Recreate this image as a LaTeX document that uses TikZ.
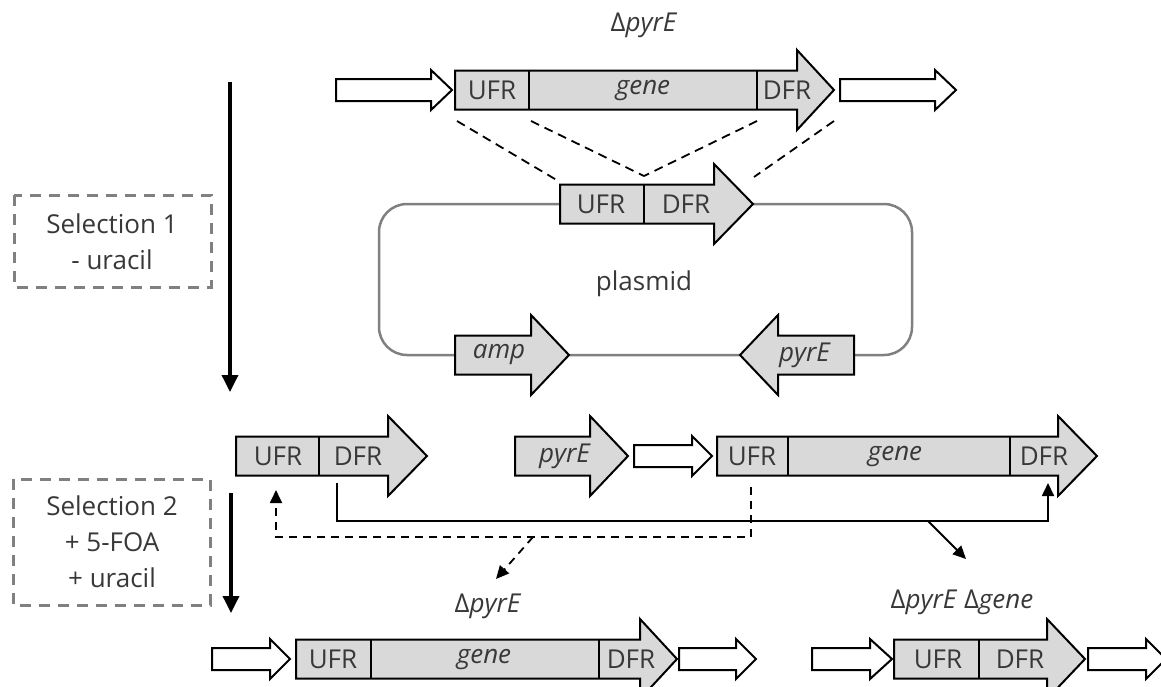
\documentclass[tikz,border=0pt]{standalone}
\usepackage{fontspec}
\setmainfont{Open Sans}
\usetikzlibrary{arrows.meta}
\definecolor{genegray}{HTML}{D9D9D9}
\definecolor{txtgray}{HTML}{383838}
\definecolor{boxgray}{HTML}{808080}
\tikzset{
  genefill/.style={draw=black, fill=genegray, line width=2pt, line join=miter},
  openarrow/.style={draw=black, fill=white, line width=2pt, line join=miter},
  divline/.style={draw=black, line width=2pt},
  lbl/.style={text=txtgray, font=\fontsize{26}{36}\selectfont, inner sep=0pt},
  plasmidline/.style={draw=boxgray, line width=2.5pt},
  selbox/.style={draw=boxgray, line width=3pt, dash pattern=on 11pt off 8pt},
  homol/.style={draw=black, line width=1.8pt, dash pattern=on 9pt off 6pt},
  conn/.style={draw=black, line width=1.8pt, -{Triangle[length=13pt,width=12pt]}},
  dconn/.style={draw=black, line width=1.8pt, dash pattern=on 8pt off 6pt, -{Triangle[length=13pt,width=12pt]}},
  bigarrow/.style={draw=black, line width=3.5pt, -{Triangle[length=17pt,width=16pt]}}
}
% #1 left, #2 head base, #3 tip, #4 centre y
\newcommand\mygarrow[4]{%
  \draw[genefill] (#1,#4-19.5) -- (#2,#4-19.5) -- (#2,#4-40) -- (#3,#4) -- (#2,#4+40) -- (#2,#4+19.5) -- (#1,#4+19.5) -- cycle;}
\newcommand\myoarrow[4]{%
  \draw[openarrow] (#1,#4-11) -- (#2,#4-11) -- (#2,#4-20) -- (#3,#4) -- (#2,#4+20) -- (#2,#4+11) -- (#1,#4+11) -- cycle;}
\newcommand\mydiv[2]{\draw[divline] (#1,#2-19.5) -- (#1,#2+19.5);}
\begin{document}
\begin{tikzpicture}[x=1pt,y=-1pt]
\useasboundingbox (0,0) rectangle (1161,686);

% ---------- top row ----------
\node[lbl] (toplabel) at (644,25) {Δ\textit{pyrE}};
\myoarrow{336}{431}{452}{90}
\mygarrow{455}{797}{834}{90}
\mydiv{529}{90}
\mydiv{757}{90}
\myoarrow{840}{935}{956}{90}
\node[lbl] (tufr) at (492,90) {UFR};
\node[lbl] (tgene) at (643,90) {\textit{gene}};
\node[lbl] (tdfr) at (787,90) {DFR};
\coordinate (tA) at (457,121);
\coordinate (tB) at (531,121);
\coordinate (tC) at (757,121);
\coordinate (tD) at (834,121);

% ---------- plasmid ----------
\draw[plasmidline, rounded corners=28pt] (379,204) rectangle (912,355);
\mygarrow{560}{714}{753}{204}
\mydiv{644}{204}
\node[lbl] (pufr) at (601,204) {UFR};
\node[lbl] (pdfr) at (686,204) {DFR};
\coordinate (pA) at (560,182);
\coordinate (pB) at (644,176);
\coordinate (pD) at (754,177);
\mygarrow{455}{531}{569}{355}
\node[lbl] (pamp) at (499,355) {\textit{amp}};
\mygarrow{854}{778}{740}{355}
\node[lbl] (ppyr) at (805,355) {\textit{pyrE}};
\node[lbl] (plabel) at (644,284) {plasmid};
\draw[homol] (tA) -- (pA);
\draw[homol] (tB) -- (pB);
\draw[homol] (tC) -- (pB);
\draw[homol] (tD) -- (pD);

% ---------- selection boxes ----------
\draw[selbox] (14,195) rectangle (211,287);
\node[lbl, align=center] (sel1) at (112,242) {Selection 1\\- uracil};
\draw[selbox] (13,479) rectangle (210,605);
\node[lbl, align=center] (sel2) at (112,542) {Selection 2\\+ 5-FOA\\+ uracil};
\coordinate (a1s) at (230,82);
\coordinate (a1e) at (230,392);
\coordinate (a2s) at (231,493);
\coordinate (a2e) at (231,613);
\draw[bigarrow] (a1s) -- (a1e);
\draw[bigarrow] (a2s) -- (a2e);

% ---------- second row ----------
\mygarrow{236}{388}{427}{456}
\mydiv{319}{456}
\node[lbl] (aufr) at (278,456) {UFR};
\node[lbl] (adfr) at (358,456) {DFR};
\mygarrow{515}{590}{628}{456}
\node[lbl] (apyr) at (565,456) {\textit{pyrE}};
\myoarrow{634}{692}{712}{456}
\mygarrow{717}{1058}{1097}{456}
\mydiv{788}{456}
\mydiv{1010}{456}
\node[lbl] (bufr) at (752,456) {UFR};
\node[lbl] (bgene) at (895,456) {\textit{gene}};
\node[lbl] (bdfr) at (1044,456) {DFR};

\coordinate (s1) at (337,483);
\coordinate (s2) at (1048,483);
\coordinate (sm) at (928,521);
\coordinate (se) at (966,559);
\draw[conn] (s1) -- (337,521) -- (1048,521) -- (s2);
\draw[conn] (sm) -- (se);
\coordinate (d1) at (751,487);
\coordinate (d2) at (276,490);
\coordinate (dm) at (533,537);
\coordinate (de) at (496,579);
\draw[dconn] (d1) -- (751,537) -- (276,537) -- (d2);
\draw[dconn] (dm) -- (de);

% ---------- bottom left ----------
\node[lbl] (bllabel) at (488,606) {Δ\textit{pyrE}};
\myoarrow{212}{270}{290}{659}
\mygarrow{296}{640}{677}{659}
\mydiv{371}{659}
\mydiv{599}{659}
\myoarrow{679}{736}{756}{659}
\node[lbl] (cufr) at (333,659) {UFR};
\node[lbl] (cgene) at (484,659) {\textit{gene}};
\node[lbl] (cdfr) at (631,659) {DFR};

% ---------- bottom right ----------
\node[lbl] (brlabel) at (962,602) {Δ\textit{pyrE} Δ\textit{gene}};
\myoarrow{812}{870}{892}{659}
\mygarrow{894}{1047}{1085}{659}
\mydiv{979}{659}
\myoarrow{1088}{1146}{1166}{659}
\node[lbl] (dufr) at (938,659) {UFR};
\node[lbl] (ddfr) at (1020,659) {DFR};
\end{tikzpicture}
\end{document}
